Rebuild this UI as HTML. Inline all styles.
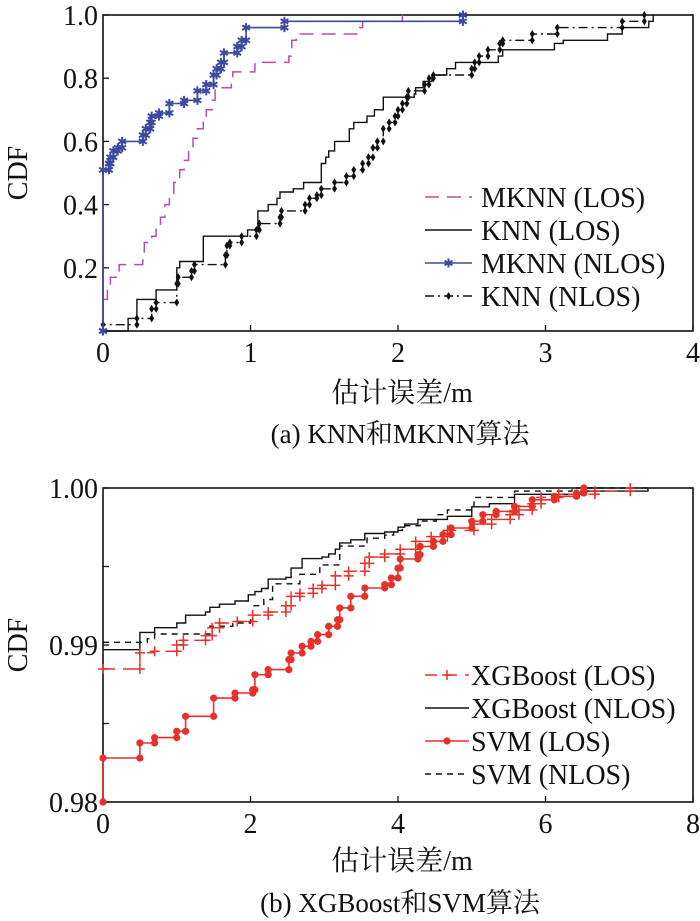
<!DOCTYPE html>
<html><head><meta charset="utf-8">
<style>
html,body{margin:0;padding:0;background:#fff;}
svg{display:block;}
text{font-family:"Liberation Serif","Noto Serif CJK SC","Noto Sans CJK SC",serif;fill:#111;}
</style></head>
<body>
<svg id="chart" width="700" height="921" viewBox="0 0 700 921" xmlns="http://www.w3.org/2000/svg"></svg>
<script>
// ---- Chart (a) data ----
const aTicksX = [0,1,2,3,4];
const aTicksY = [0.2,0.4,0.6,0.8,1.0];
const aTickLabelsY = ["0.2","0.4","0.6","0.8","1.0"];
const mknnLosX = [0,0.03,0.05,0.11,0.27,0.28,0.33,0.36,0.39,0.42,0.45,0.48,0.52,0.55,0.58,0.61,0.64,0.68,0.70,0.74,0.76,0.87,0.88,1.03,1.26,1.28,1.31,1.74,1.76,2.03];
const mknnLosY = [0.10,0.14,0.17,0.21,0.23,0.28,0.30,0.33,0.36,0.40,0.43,0.47,0.51,0.54,0.58,0.61,0.64,0.67,0.70,0.73,0.77,0.80,0.82,0.85,0.87,0.92,0.94,0.96,0.98,1.0];
const knnLosX = [0,0.17,0.23,0.36,0.50,0.52,0.68,0.98,1.05,1.12,1.18,1.20,1.29,1.36,1.48,1.51,1.53,1.57,1.67,1.70,1.79,1.84,1.90,2.11,2.12,2.17,2.23,2.33,2.39,2.68,2.71,3.06,3.12,3.42,3.52,3.70,3.73];
const knnLosY = [0,0.04,0.10,0.13,0.20,0.22,0.30,0.32,0.38,0.40,0.42,0.44,0.45,0.47,0.53,0.55,0.57,0.60,0.64,0.66,0.68,0.70,0.74,0.75,0.77,0.79,0.81,0.83,0.85,0.87,0.89,0.91,0.92,0.94,0.96,0.98,1.0];
const mknnNlosX = [0,0,0.04,0.05,0.07,0.10,0.13,0.27,0.29,0.32,0.33,0.38,0.45,0.55,0.64,0.70,0.75,0.77,0.80,0.82,0.91,0.94,0.97,1.23,2.44];
const mknnNlosY = [0,0.51,0.53,0.55,0.57,0.58,0.60,0.62,0.64,0.66,0.68,0.69,0.72,0.73,0.76,0.78,0.81,0.83,0.85,0.88,0.90,0.92,0.96,0.98,1.0];
const knnNlosX = [0,0,0.23,0.33,0.36,0.50,0.51,0.60,0.62,0.83,0.84,0.86,0.94,1.04,1.06,1.20,1.21,1.37,1.40,1.45,1.48,1.57,1.65,1.70,1.76,1.80,1.83,1.86,1.90,1.94,1.98,2.00,2.03,2.06,2.07,2.18,2.21,2.24,2.50,2.52,2.55,2.61,2.69,2.71,2.91,3.08,3.52,3.67];
const knnNlosY = [0,0.02,0.04,0.07,0.09,0.15,0.17,0.19,0.21,0.24,0.27,0.28,0.30,0.32,0.34,0.36,0.38,0.40,0.42,0.43,0.45,0.47,0.49,0.51,0.53,0.55,0.58,0.60,0.64,0.66,0.68,0.70,0.72,0.74,0.76,0.78,0.80,0.81,0.83,0.85,0.87,0.89,0.91,0.92,0.94,0.96,0.98,1.0];

// ---- Chart (b) data ----
const bTicksX = [0,2,4,6,8];
const bTicksY = [0.98,0.985,0.99,0.995,1.0];
const bTickLabelsY = ["0.98","","0.99","","1.00"];
const xgbNlosX = [0,0.5,0.7,1.0,1.12,1.39,1.45,1.58,1.79,1.97,2.06,2.15,2.24,2.48,2.55,2.70,2.97,3.06,3.15,3.21,3.36,3.55,3.82,4.0,4.09,4.27,4.67,5.0,5.24,5.58,6.48,7.39];
const xgbNlosY = [0.9897,0.9908,0.9911,0.9914,0.9919,0.9921,0.9924,0.9926,0.9928,0.9932,0.9934,0.9936,0.9942,0.9943,0.9949,0.9955,0.9956,0.9958,0.9961,0.9965,0.9967,0.9971,0.9972,0.9975,0.9977,0.9980,0.9982,0.9988,0.9990,0.9996,0.9998,1.0];
const svmNlosX = [0,0.6,0.7,1.45,1.76,2.0,2.03,2.18,2.3,2.67,2.94,3.21,3.58,3.82,3.94,4.06,4.30,4.52,4.67,5.03,5.58,6.36,7.4];
const svmNlosY = [0.99017,0.9904,0.9907,0.9912,0.9914,0.9916,0.9925,0.9929,0.9939,0.9945,0.9951,0.9963,0.9968,0.9970,0.9973,0.9976,0.9979,0.9983,0.9986,0.9994,0.9998,1.0,1.0];
const xgbLosX = [0,0.5,0.7,1.0,1.09,1.39,1.48,1.58,1.82,2.03,2.24,2.48,2.55,2.67,2.85,2.97,3.15,3.33,3.55,3.61,3.82,4.03,4.24,4.45,4.67,5.03,5.27,5.52,5.64,5.82,5.94,6.18,6.67,7.15];
const xgbLosY = [0.98847,0.9895,0.9896,0.9900,0.9903,0.9906,0.9911,0.9914,0.9915,0.9919,0.9921,0.9925,0.9931,0.9933,0.9936,0.9938,0.9944,0.9947,0.9952,0.9956,0.9958,0.9961,0.9966,0.9969,0.9973,0.9977,0.9980,0.9983,0.9986,0.9990,0.9994,0.9996,0.9998,1.0];
const svmLosX = [0,0,0.5,0.7,1.0,1.12,1.5,1.79,2.03,2.06,2.24,2.52,2.55,2.70,2.82,2.91,3.06,3.18,3.21,3.36,3.55,3.82,3.91,4.0,4.03,4.27,4.30,4.48,4.61,4.72,5.0,5.15,5.33,5.58,5.82,6.12,6.42,6.52];
const svmLosY = [0.98,0.9828,0.98376,0.9841,0.9845,0.98546,0.98662,0.98694,0.98715,0.98811,0.98843,0.98907,0.98949,0.98992,0.99023,0.99066,0.99119,0.99161,0.99236,0.99310,0.99363,0.99384,0.99427,0.9949,0.99548,0.99575,0.99628,0.99660,0.99703,0.99745,0.99788,0.9983,0.99851,0.99883,0.99925,0.99947,0.99968,1.0];

const NS = "http://www.w3.org/2000/svg";
const svg = document.getElementById('chart');
function mk(tag, attrs, parent){
  const e = document.createElementNS(NS, tag);
  for (const k in attrs) e.setAttribute(k, attrs[k]);
  (parent||svg).appendChild(e);
  return e;
}
function scale(d0,d1,r0,r1){ return v => r0 + (v-d0)/(d1-d0)*(r1-r0); }

const PL = 103, PR = 693;
const aX = scale(0,4,PL,PR), aY = scale(0,1,331,15);
const bX = scale(0,8,PL,PR), bY = scale(0.98,1.0,802,488);

function stepPath(xs, ys, sx, sy){
  let d = `M${sx(xs[0]).toFixed(1)},${sy(ys[0]).toFixed(1)}`;
  for (let i=1;i<xs.length;i++){
    d += `H${sx(xs[i]).toFixed(1)}V${sy(ys[i]).toFixed(1)}`;
  }
  return d;
}
function marker(kind, cx, cy, color, g){
  let m;
  if (kind==='star'){
    const r=4.5; let d='';
    for (let a=0;a<3;a++){ const t=a*Math.PI/3+Math.PI/2; d+=`M${cx-r*Math.cos(t)},${cy-r*Math.sin(t)}L${cx+r*Math.cos(t)},${cy+r*Math.sin(t)}`; }
    m = mk('path',{d, stroke:color,'stroke-width':2,fill:'none'},g);
  } else if (kind==='diamond'){
    m = mk('path',{d:`M${cx},${cy-4}L${cx+2.5},${cy}L${cx},${cy+4}L${cx-2.5},${cy}Z`, fill:color},g);
  } else if (kind==='plus'){
    m = mk('path',{d:`M${cx-5},${cy}H${cx+5}M${cx},${cy-5}V${cy+5}`, stroke:color,'stroke-width':1.5},g);
  } else {
    m = mk('circle',{cx,cy,r:3.6,fill:color},g);
  }
  
  
}
function series(name, xs, ys, sx, sy, color, dash, mark, width){
  const g = mk('g',{});
  
  
  const p = mk('path',{d:stepPath(xs,ys,sx,sy), fill:'none', stroke:color,'stroke-width':width||1.5,'stroke-dasharray':dash||'none'},g);
  
  
  if (mark){
    for (let i=0;i<xs.length;i++){
      marker(mark, sx(xs[i]), sy(ys[i]), color, g);
      if (i>0 && Math.abs(sy(ys[i])-sy(ys[i-1]))>3) marker(mark, sx(xs[i]), sy(ys[i-1]), color, g);
    }
  }
}
function axes(prefix, top, bottom, sx, sy, ticksX, ticksY, labelsY, titleY){
  const g = mk('g',{});
  
  
  mk('rect',{x:PL,y:top,width:PR-PL,height:bottom-top,fill:'none',stroke:'#111','stroke-width':1.6},g);
  ticksX.forEach(t=>{
    const x=sx(t);
    mk('line',{x1:x,x2:x,y1:bottom,y2:bottom-6,stroke:'#111','stroke-width':1.3},g);
    const tx = mk('text',{x:x,y:bottom+31,'font-size':28,'text-anchor':'middle'},g);
    tx.textContent = String(t);
    
    
  });
  ticksY.forEach((t,i)=>{
    const y=sy(t);
    mk('line',{x1:PL,x2:PL+6,y1:y,y2:y,stroke:'#111','stroke-width':1.3},g);
    if (labelsY[i]){
      const ty = mk('text',{x:PL-5,y:y+10,'font-size':28,'text-anchor':'end'},g);
      ty.textContent = labelsY[i];
      
      
    }
  });
  const yl = mk('text',{x:0,y:0,'font-size':28,'text-anchor':'middle',transform:`translate(27,${(top+bottom)/2}) rotate(-90)`},g);
  yl.textContent='CDF';
  
  
  const xl = mk('text',{x:402,y:titleY,'font-size':28,'text-anchor':'middle'},g);
  xl.textContent='估计误差/m';
  
  
}
function legend(prefix, entries, y0, dy, x1, x2, tx){
  const g = mk('g',{});
  
  
  entries.forEach((e,i)=>{
    const y = y0 + i*dy;
    const eg = mk('g',{},g);
    
    
    mk('line',{x1,x2,y1:y,y2:y,stroke:e.c,'stroke-width':1.5,'stroke-dasharray':e.d||'none'},eg);
    if (e.m) marker(e.m,(x1+x2)/2,y,e.c,eg);
    const t = mk('text',{x:tx,y:y+10,'font-size':28},eg);
    t.textContent = e.t;
  });
}

// Chart (a)
axes('chart-a',15,331,aX,aY,aTicksX,aTicksY,aTickLabelsY,402);
series('mknn-los', mknnLosX, mknnLosY, aX, aY, '#b64fa8', '14,8', null);
series('knn-los', knnLosX, knnLosY, aX, aY, '#111', null, null, 1.4);
series('knn-nlos', knnNlosX, knnNlosY, aX, aY, '#111', '9,4,2,4', 'diamond', 1.4);
series('mknn-nlos', mknnNlosX, mknnNlosY, aX, aY, '#3c4aa0', null, 'star', 1.6);
legend('chart-a',[
  {t:'MKNN (LOS)',c:'#b64fa8',d:'14,8'},
  {t:'KNN (LOS)',c:'#111'},
  {t:'MKNN (NLOS)',c:'#3c4aa0',m:'star'},
  {t:'KNN (NLOS)',c:'#111',d:'9,4,2,4',m:'diamond'}
],197,33,425,472,481);
const capA = mk('text',{x:400,y:443,'font-size':27,'text-anchor':'middle'});
capA.textContent='(a) KNN和MKNN算法';



// Chart (b)
axes('chart-b',488,802,bX,bY,bTicksX,bTicksY,bTickLabelsY,870);
series('svm-nlos', svmNlosX, svmNlosY, bX, bY, '#111', '6,5', null, 1.4);
series('xgboost-nlos', xgbNlosX, xgbNlosY, bX, bY, '#111', null, null, 1.4);
series('xgboost-los', xgbLosX, xgbLosY, bX, bY, '#e8302a', '12,8', 'plus', 1.4);
series('svm-los', svmLosX, svmLosY, bX, bY, '#e8302a', null, 'circle', 1.6);
legend('chart-b',[
  {t:'XGBoost (LOS)',c:'#e8302a',d:'12,8',m:'plus'},
  {t:'XGBoost (NLOS)',c:'#111'},
  {t:'SVM (LOS)',c:'#e8302a',m:'circle'},
  {t:'SVM (NLOS)',c:'#111',d:'6,5'}
],675,33,425,469,471);
const capB = mk('text',{x:400,y:912,'font-size':27,'text-anchor':'middle'});
capB.textContent='(b) XGBoost和SVM算法';


</script>
</body></html>
